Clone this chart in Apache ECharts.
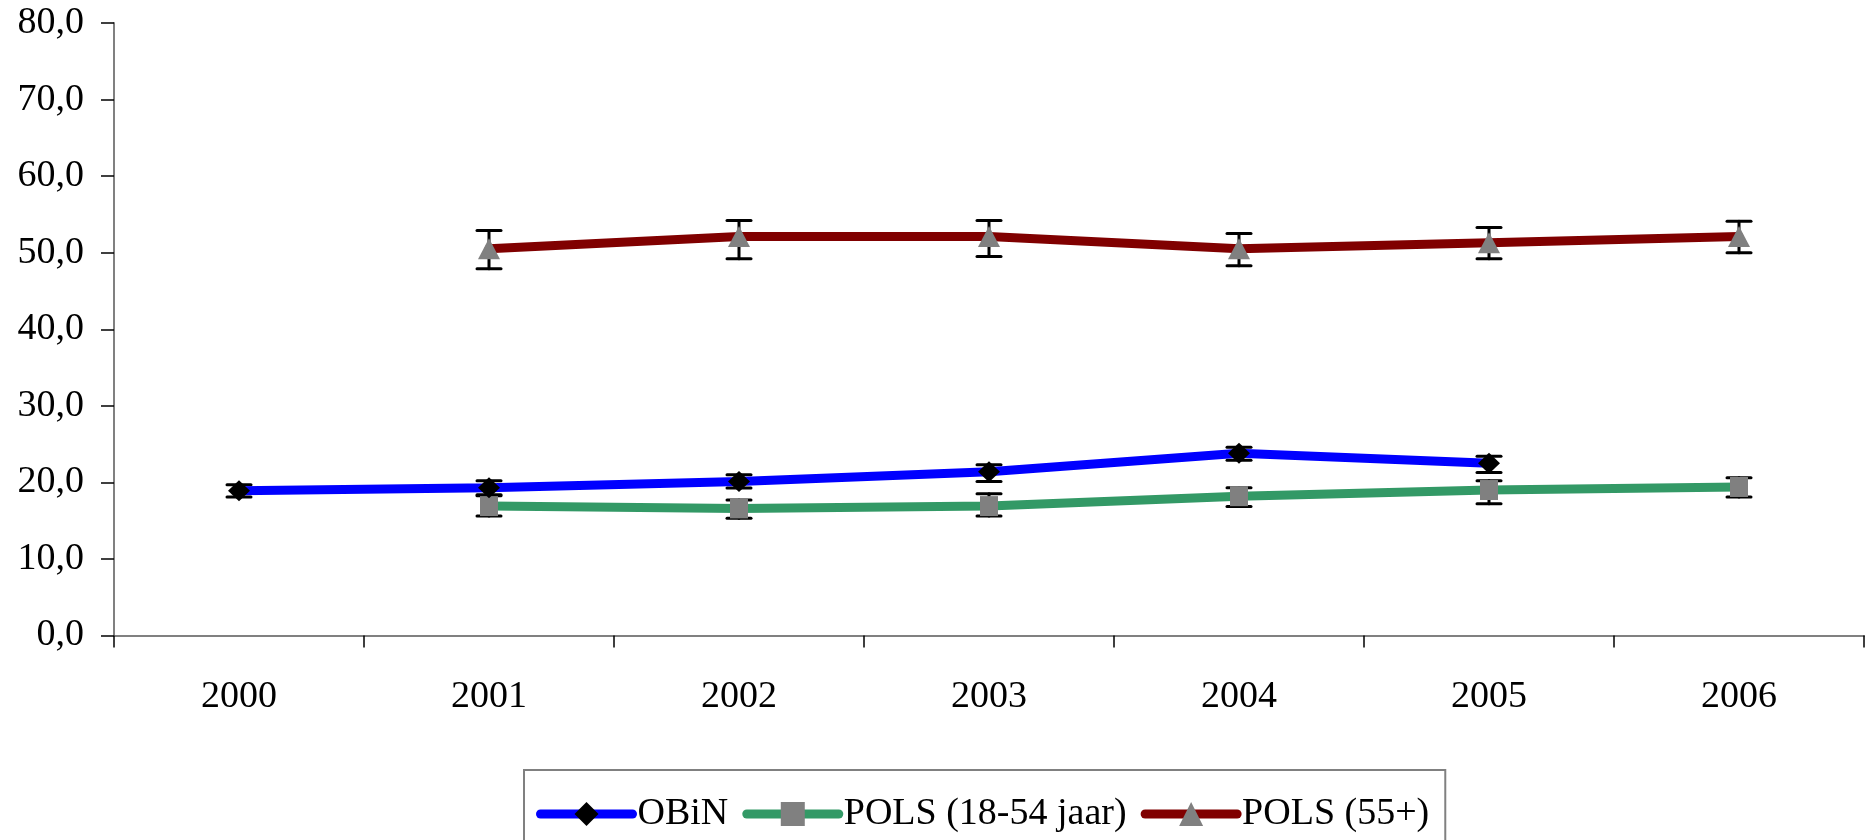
<!DOCTYPE html>
<html>
<head>
<meta charset="utf-8">
<script src="https://cdn.jsdelivr.net/npm/echarts@6/dist/echarts.min.js"></script>
<style>
html,body{margin:0;padding:0;background:#fff;}
#chart{width:1870px;height:840px;}
</style>
</head>
<body>
<div id="chart"></div>
<script>
var years = ['2000','2001','2002','2003','2004','2005','2006'];
var yTicks = [0,10,20,30,40,50,60,70,80];

var obin      = [18.9, 19.3, 20.1, 21.4, 23.8, 22.5, null];
var obinLow   = [18.1, 18.4, 19.25, 20.1, 22.9, 21.3, null];
var obinHigh  = [19.7, 20.2, 21.0, 22.3, 24.6, 23.4, null];

var pols1854     = [null, 16.9, 16.6, 16.9, 18.2, 19.0, 19.4];
var pols1854Low  = [null, 15.6, 15.3, 15.6, 16.85, 17.2, 18.1];
var pols1854High = [null, 18.25, 17.7, 18.5, 19.3, 20.2, 20.6];

var pols55     = [null, 50.5, 52.1, 52.1, 50.5, 51.3, 52.1];
var pols55Low  = [null, 47.9, 49.2, 49.5, 48.3, 49.2, 50.0];
var pols55High = [null, 52.9, 54.2, 54.2, 52.5, 53.3, 54.1];

var names = ['OBiN', 'POLS (18-54 jaar)', 'POLS (55+)'];

function errData(lo, hi) {
  var out = [];
  for (var i = 0; i < years.length; i++) {
    if (lo[i] != null && hi[i] != null) out.push([i, lo[i], hi[i]]);
  }
  return out;
}

function renderErr(params, api) {
  var x = api.value(0);
  var pLo = api.coord([x, api.value(1)]);
  var pHi = api.coord([x, api.value(2)]);
  var hw = 12;
  var st = {stroke: '#000', lineWidth: 3, lineCap: 'round'};
  return {
    type: 'group',
    children: [
      {type: 'line', shape: {x1: pLo[0], y1: pLo[1], x2: pHi[0], y2: pHi[1]}, style: st},
      {type: 'line', shape: {x1: pHi[0] - hw, y1: pHi[1], x2: pHi[0] + hw, y2: pHi[1]}, style: st},
      {type: 'line', shape: {x1: pLo[0] - hw, y1: pLo[1], x2: pLo[0] + hw, y2: pLo[1]}, style: st}
    ]
  };
}

var font = '"Liberation Serif", "Times New Roman", serif';
var chart = echarts.init(document.getElementById('chart'), null, {renderer: 'canvas'});
chart.setOption({
  animation: false,
  backgroundColor: '#ffffff',
  textStyle: {fontFamily: font},
  grid: {left: 114, right: 6, top: 23, height: 612.5, containLabel: false},
  xAxis: {
    type: 'category',
    data: years,
    boundaryGap: true,
    axisLine: {lineStyle: {color: '#808080', width: 2}},
    axisTick: {show: true, length: 12, inside: false, alignWithLabel: false, lineStyle: {color: '#000', width: 1.5}},
    axisLabel: {color: '#000', fontSize: 38, fontFamily: font, margin: 43},
    splitLine: {show: false}
  },
  yAxis: {
    type: 'value',
    min: yTicks[0],
    max: yTicks[yTicks.length - 1],
    interval: 10,
    axisLine: {show: true, lineStyle: {color: '#808080', width: 2}},
    axisTick: {show: true, length: 13, lineStyle: {color: '#000', width: 1.5}},
    axisLabel: {color: '#000', fontSize: 38, fontFamily: font, margin: 30,
      formatter: function (v) { return v.toFixed(1).replace('.', ','); }},
    splitLine: {show: false}
  },
  legend: {
    data: names,
    left: 524,
    top: 770,
    orient: 'horizontal',
    itemWidth: 92,
    itemHeight: 30,
    itemGap: 14,
    padding: [25, 16, 30, 12],
    borderColor: '#808080',
    borderWidth: 2,
    lineStyle: {width: 9, cap: 'round'},
    textStyle: {fontSize: 38, fontFamily: font, color: '#000'}
  },
  series: [
    {type: 'custom', name: 'errObin', renderItem: renderErr, data: errData(obinLow, obinHigh), encode: {x: 0, y: [1, 2]}, z: 1, silent: true},
    {type: 'custom', name: 'errP1854', renderItem: renderErr, data: errData(pols1854Low, pols1854High), encode: {x: 0, y: [1, 2]}, z: 1, silent: true},
    {type: 'custom', name: 'errP55', renderItem: renderErr, data: errData(pols55Low, pols55High), encode: {x: 0, y: [1, 2]}, z: 1, silent: true},
    {
      type: 'line', name: names[0], data: obin, z: 3,
      symbol: 'diamond', symbolSize: [22, 21], showAllSymbol: true,
      lineStyle: {color: '#0000ff', width: 9, cap: 'round'},
      itemStyle: {color: '#000000'},
      color: '#0000ff'
    },
    {
      type: 'line', name: names[1], data: pols1854, z: 2,
      symbol: 'rect', symbolSize: [18, 20], showAllSymbol: true,
      lineStyle: {color: '#339966', width: 9, cap: 'round'},
      itemStyle: {color: '#808080'},
      color: '#339966'
    },
    {
      type: 'line', name: names[2], data: pols55, z: 2,
      symbol: 'triangle', symbolSize: [22, 21], showAllSymbol: true,
      lineStyle: {color: '#800000', width: 9, cap: 'round'},
      itemStyle: {color: '#808080'},
      color: '#800000'
    }
  ]
});
</script>
</body>
</html>
